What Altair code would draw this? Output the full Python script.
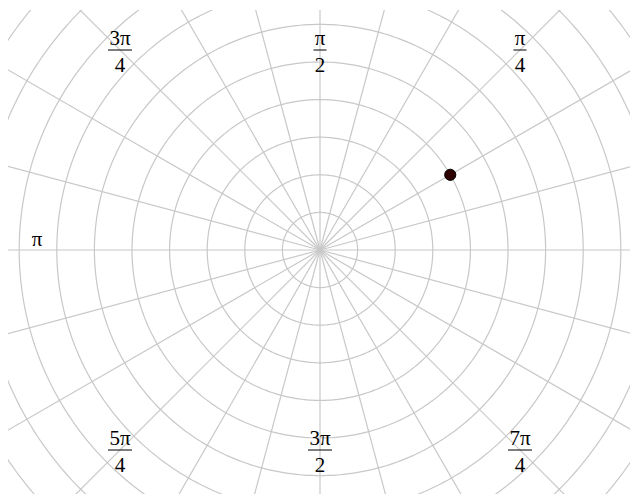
import numpy as np
import pandas as pd
import altair as alt

# Polar grid: ring radii (data units) and spoke angles (degrees)
ring_radii = [1, 2, 3, 4, 5, 6, 7, 8, 9, 10]
spoke_angles = list(range(0, 360, 15))

# Highlighted point in polar form (r, theta in units of pi)
point_r = [4]
point_theta_pi = [1 / 6]

# Angular tick labels (numerator / denominator of the fraction of pi)
label_angles = [45, 90, 135, 180, 225, 270, 315]
label_num = ["π", "π", "3π", "π", "5π", "3π", "7π"]
label_den = ["4", "2", "4", "", "4", "2", "4"]

# Geometry of the drawing area
PX = 37.6                 # pixels per radial unit
PLOT_W, PLOT_H = 622, 484
CX, CY = 312, 240         # centre inside the plot area (pixels)
x_dom = [-CX / PX, (PLOT_W - CX) / PX]
y_dom = [-(PLOT_H - CY) / PX, CY / PX]
LAB_W, LAB_H = 283 / PX, 200 / PX   # labels sit on this box around the centre

GRID = "#c8c8c8"
FONT = "Liberation Serif"
FS = 21

# Ring polylines
rows = []
for r in ring_radii:
    t = np.linspace(0, 2 * np.pi, 361)
    for i, a in enumerate(t):
        rows.append({"r": r, "i": i, "x": r * np.cos(a), "y": r * np.sin(a)})
rings = pd.DataFrame(rows)

# Spokes out to beyond the clipped edge
spokes = pd.DataFrame({
    "x": 0.0, "y": 0.0,
    "x2": [14 * np.cos(np.radians(a)) for a in spoke_angles],
    "y2": [14 * np.sin(np.radians(a)) for a in spoke_angles],
})

pt = pd.DataFrame({
    "x": [r * np.cos(t * np.pi) for r, t in zip(point_r, point_theta_pi)],
    "y": [r * np.sin(t * np.pi) for r, t in zip(point_r, point_theta_pi)],
})

# Label anchors on the box
lx, ly = [], []
for a in label_angles:
    c, s = np.cos(np.radians(a)), np.sin(np.radians(a))
    k = min(LAB_W / abs(c) if abs(c) > 1e-9 else 1e9,
            LAB_H / abs(s) if abs(s) > 1e-9 else 1e9)
    lx.append(k * c)
    ly.append(k * s)
labels = pd.DataFrame({"x": lx, "y": ly, "num": label_num, "den": label_den})
fracs = labels[labels["den"] != ""].copy()
plain = labels[labels["den"] == ""].copy()
half = fracs["num"].str.len().map({1: 6.5, 2: 12.0}) / PX
fracs["xa"] = fracs["x"] - half
fracs["xb"] = fracs["x"] + half

xs = alt.Scale(domain=x_dom, nice=False, zero=False)
ys = alt.Scale(domain=y_dom, nice=False, zero=False)
X = lambda f="x": alt.X(f"{f}:Q", scale=xs, axis=None)
Y = lambda f="y": alt.Y(f"{f}:Q", scale=ys, axis=None)

ring_layer = alt.Chart(rings).mark_line(
    clip=True, color=GRID, strokeWidth=1.2
).encode(x=X(), y=Y(), detail="r:N", order="i:Q")

spoke_layer = alt.Chart(spokes).mark_rule(
    clip=True, color=GRID, strokeWidth=1.2
).encode(x=X(), y=Y(), x2="x2:Q", y2="y2:Q")

point_layer = alt.Chart(pt).mark_circle(
    size=125, color="#2e0000", opacity=1, stroke="black", strokeWidth=1
).encode(x=X(), y=Y())

num_layer = alt.Chart(fracs).mark_text(
    font=FONT, fontSize=FS, color="black", baseline="alphabetic", dy=-5
).encode(x=X(), y=Y(), text="num:N")

den_layer = alt.Chart(fracs).mark_text(
    font=FONT, fontSize=FS, color="black", baseline="alphabetic", dy=22
).encode(x=X(), y=Y(), text="den:N")

bar_layer = alt.Chart(fracs).mark_rule(
    color="black", strokeWidth=1
).encode(x=X("xa"), x2="xb:Q", y=Y())

plain_layer = alt.Chart(plain).mark_text(
    font=FONT, fontSize=FS, color="black", baseline="alphabetic", dy=-4
).encode(x=X(), y=Y(), text="num:N")

chart = alt.layer(
    ring_layer, spoke_layer, point_layer,
    bar_layer, num_layer, den_layer, plain_layer
).properties(
    width=PLOT_W, height=PLOT_H,
    autosize=alt.AutoSizeParams(type="none"),
    padding={"left": 8, "top": 10, "right": 0, "bottom": 0},
    background="white",
).configure_view(stroke=None)

chart.save("out.html", embed_options={"renderer": "svg", "actions": False})
